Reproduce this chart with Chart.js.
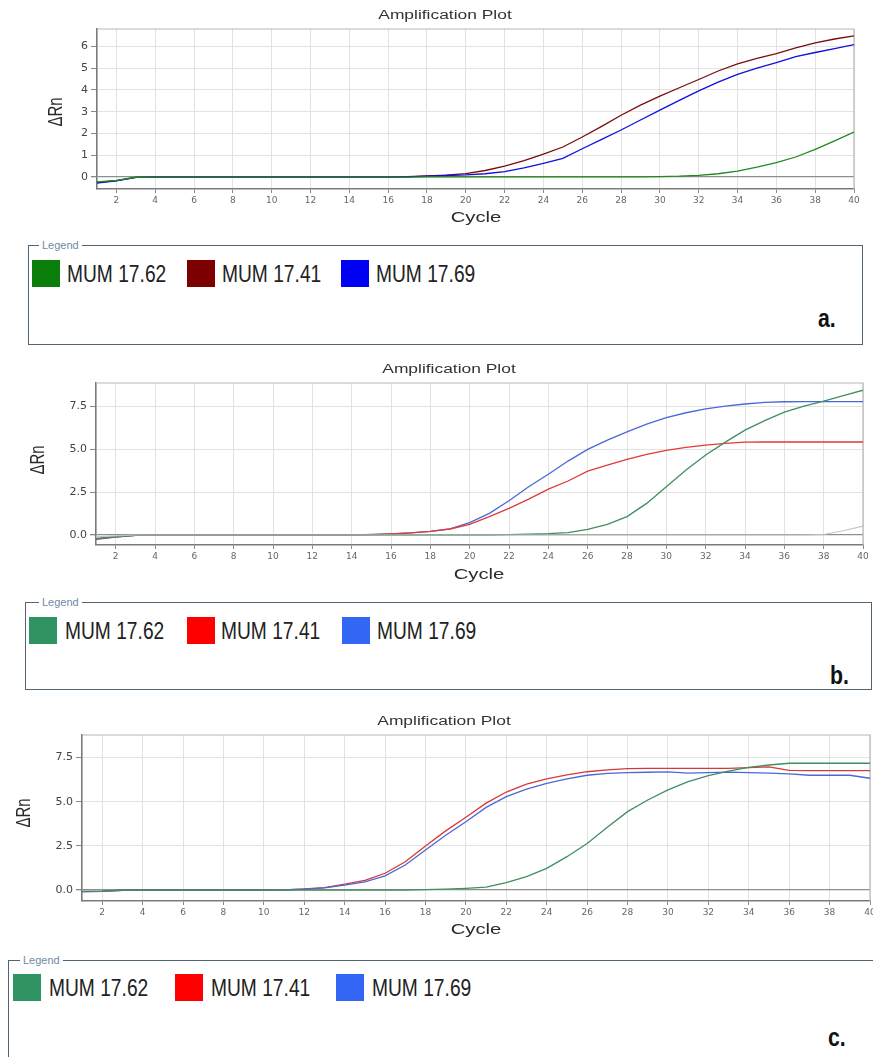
<!DOCTYPE html>
<html><head><meta charset="utf-8">
<script src="https://cdn.jsdelivr.net/npm/chart.js@4.4.1/dist/chart.umd.min.js"></script>
<style>
html,body{margin:0;padding:0;background:#fff;}
body{width:873px;height:1057px;position:relative;overflow:hidden;font-family:"Liberation Sans",Arial,sans-serif;}
.cw{position:absolute;left:0;width:873px;}
.lg{position:absolute;border:1.5px solid #4f6474;box-sizing:border-box;}
.lgt{position:absolute;background:#fff;padding:0 3px;font-size:11px;color:#7088a8;line-height:14px;}
.sw{position:absolute;width:28px;height:27px;}
.tx{position:absolute;font-size:24px;line-height:28px;color:#222;transform:scaleX(0.8);transform-origin:0 50%;white-space:nowrap;}
.tag{position:absolute;font-size:25px;line-height:28px;font-weight:bold;color:#111;transform:scaleX(0.85);transform-origin:0 50%;}
</style></head>
<body>
<div class="cw" style="top:0;height:232px"><canvas id="ca"></canvas></div>
<div class="cw" style="top:355px;height:240px"><canvas id="cb"></canvas></div>
<div class="cw" style="top:710px;height:240px"><canvas id="cc"></canvas></div>
<div id="legends"></div>
<script>
// ---------- data ----------
const cycles = [1,2,3,4,5,6,7,8,9,10,11,12,13,14,15,16,17,18,19,20,21,22,23,24,25,26,27,28,29,30,31,32,33,34,35,36,37,38,39,40];
const xTickValues = [2,4,6,8,10,12,14,16,18,20,22,24,26,28,30,32,34,36,38,40];
const xTickLabels = ['2','4','6','8','10','12','14','16','18','20','22','24','26','28','30','32','34','36','38','40'];
const yTickValuesA = [0,1,2,3,4,5,6];
const yTickLabelsA = ['0','1','2','3','4','5','6'];
const yTickValuesBC = [0,2.5,5,7.5];
const yTickLabelsBC = ['0.0','2.5','5.0','7.5'];
const seriesNames = ['MUM 17.62','MUM 17.41','MUM 17.69'];
const panelTags = ['a.','b.','c.'];
const titleText = 'Amplification Plot';
const xTitleText = 'Cycle';
const yTitleText = 'ΔRn';
const legendTitle = 'Legend';

// panel a
const aGreen = [-0.22,-0.15,-0.01,0,0,0,0,0,0,0,0,0,0,0,0,0,0,0.01,0.01,0.01,0.01,0.01,0.01,0.01,0.01,0.01,0.01,0.01,0.01,0.02,0.04,0.08,0.15,0.27,0.45,0.66,0.92,1.27,1.66,2.07];
const aRed   = [-0.25,-0.17,-0.02,0,0,0,0,0,0,0,0,0,0,0,0,0,0.02,0.05,0.09,0.16,0.3,0.5,0.75,1.05,1.38,1.84,2.33,2.84,3.3,3.72,4.1,4.48,4.87,5.2,5.45,5.67,5.93,6.16,6.34,6.48];
const aBlue  = [-0.28,-0.18,-0.02,0,0,0,0,0,0,0,0,0,0,0,0,0,0.01,0.04,0.07,0.1,0.15,0.25,0.42,0.63,0.86,1.3,1.73,2.16,2.62,3.07,3.52,3.96,4.36,4.72,5.0,5.26,5.53,5.72,5.9,6.08];
// panel b
const bGreen = [-0.2,-0.1,-0.02,0,0,0,0,0,0,0,0,0,0,0,0,0,0,0,0,0,0,0.02,0.05,0.08,0.14,0.33,0.62,1.07,1.84,2.81,3.78,4.65,5.4,6.1,6.65,7.15,7.5,7.78,8.1,8.42];
const bRed   = [-0.22,-0.1,-0.02,0,0,0,0,0,0,0,0,0,0,0,0.02,0.06,0.12,0.21,0.35,0.62,1.07,1.55,2.09,2.67,3.14,3.72,4.07,4.4,4.69,4.92,5.1,5.23,5.33,5.4,5.41,5.41,5.41,5.41,5.41,5.41];
const bBlue  = [-0.25,-0.12,-0.02,0,0,0,0,0,0,0,0,0,0,0,0.03,0.07,0.13,0.21,0.36,0.72,1.26,1.99,2.81,3.53,4.3,4.98,5.52,6.0,6.45,6.82,7.11,7.33,7.5,7.62,7.71,7.75,7.76,7.76,7.76,7.76];
const bGrey  = [-0.1,-0.05,0,0,0,0,0,0,0,0,0,0,0,0,0,0,0,0,0,0,0,0,0,0,0,0,0,0,0,0,0,0,0,0,0,0,0,0.03,0.25,0.52];
// panel c
const cGreen = [-0.08,-0.06,-0.01,0,0,0,0,0,0,0,0,0,0,0,0,0,0,0.02,0.05,0.1,0.17,0.42,0.76,1.23,1.89,2.64,3.55,4.44,5.1,5.67,6.14,6.48,6.74,6.95,7.08,7.18,7.18,7.18,7.18,7.18];
const cRed   = [-0.08,-0.06,-0.01,0,0,0,0,0,0,0,0.01,0.07,0.14,0.33,0.55,0.95,1.6,2.5,3.35,4.12,4.92,5.55,6.0,6.29,6.52,6.7,6.8,6.88,6.89,6.89,6.89,6.89,6.89,6.93,6.97,6.78,6.76,6.76,6.76,6.76];
const cBlue  = [-0.1,-0.07,-0.01,0,0,0,0,0,0,0,0.01,0.05,0.12,0.28,0.46,0.8,1.42,2.27,3.1,3.87,4.68,5.29,5.72,6.04,6.29,6.5,6.61,6.65,6.67,6.69,6.62,6.65,6.68,6.65,6.62,6.58,6.5,6.5,6.5,6.33];

// ---------- helpers ----------
function pts(arr){ return cycles.map((c,i)=>({x:c,y:arr[i]})); }

const textPlugin = {
  id:'txt',
  afterDraw(chart, args, o){
    const c = chart.ctx;
    c.save();
    c.textAlign='center'; c.textBaseline='middle';
    c.save(); c.translate(o.title[0], o.title[1]); c.scale(1.45,1);
    c.font='12px "Liberation Sans", Arial, sans-serif'; c.fillStyle='#333';
    c.fillText(titleText,0,0); c.restore();
    c.save(); c.translate(o.xt[0], o.xt[1]); c.scale(1.35,1);
    c.font='15px "Liberation Sans", Arial, sans-serif'; c.fillStyle='#2a2a2a';
    c.fillText(xTitleText,0,0); c.restore();
    c.save(); c.translate(o.yt[0], o.yt[1]); c.rotate(-Math.PI/2); c.scale(1,1.3);
    c.font='15px "Liberation Sans", Arial, sans-serif'; c.fillStyle='#2a2a2a';
    c.fillText(yTitleText,0,0); c.restore();
    c.restore();
  }
};
const framePlugin = {
  id:'frame',
  beforeDatasetsDraw(chart){
    const a = chart.chartArea, c = chart.ctx;
    c.save(); c.strokeStyle='#b8b8b8'; c.lineWidth=1.2;
    c.beginPath(); c.moveTo(a.left,a.top); c.lineTo(a.right,a.top); c.lineTo(a.right,a.bottom); c.stroke();
    c.restore();
  }
};

function makeChart(id, sets, yMin, yMax, yVals, yLabs, area, H, txt){
  const datasets = sets.map(s=>({label:s.label, data:pts(s.data), borderColor:s.color, borderWidth:s.w||1.3,
    pointRadius:0, fill:false, tension:0}));
  return new Chart(document.getElementById(id), {
    type:'line',
    data:{datasets},
    options:{
      responsive:true, maintainAspectRatio:false, animation:false,
      layout:{padding:{top:area.top, right:873-area.right, left:0, bottom:0}},
      plugins:{legend:{display:false}, tooltip:{enabled:false}, txt:txt},
      scales:{
        x:{type:'linear', min:1, max:40,
          afterBuildTicks(ax){ ax.ticks = xTickValues.map(v=>({value:v})); },
          afterFit(ax){ ax.height = H-area.bottom; ax.paddingLeft=0; ax.paddingRight=0; },
          ticks:{autoSkip:false, maxRotation:0, padding:2, color:'#666', font:{family:'DejaVu Sans', size:9},
            callback:(v)=>xTickLabels[xTickValues.indexOf(v)]},
          grid:{color:'#e2e2e2', lineWidth:1, tickLength:4, tickColor:'#888'},
          border:{color:'#7a7a7a', width:1.6}
        },
        y:{type:'linear', min:yMin, max:yMax,
          afterBuildTicks(ax){ ax.ticks = yVals.map(v=>({value:v})); },
          afterFit(ax){ ax.width = area.left; },
          ticks:{autoSkip:false, padding:3, color:'#444', font:{family:'DejaVu Sans', size:11},
            callback:(v)=>yLabs[yVals.indexOf(v)]},
          grid:{color:(ctx)=> (ctx.tick && ctx.tick.value===0) ? '#8e8e8e' : '#e2e2e2',
            lineWidth:(ctx)=> (ctx.tick && ctx.tick.value===0) ? 1.3 : 1, tickLength:6, tickColor:'#888'},
          border:{color:'#7a7a7a', width:1.6}
        }
      }
    },
    plugins:[framePlugin, textPlugin]
  });
}

makeChart('ca', [
  {label:seriesNames[0], data:aGreen, color:'#1f8a1f'},
  {label:seriesNames[2], data:aBlue, color:'#1010d8'},
  {label:seriesNames[1], data:aRed, color:'#7a0c0c'}
], -0.55, 6.8, yTickValuesA, yTickLabelsA, {left:97,right:854,top:29,bottom:189}, 232,
  {title:[445,16], xt:[476,218], yt:[57,112]});

makeChart('cb', [
  {label:'NTC', data:bGrey, color:'#c4c4c4', w:1.1},
  {label:seriesNames[0], data:bGreen, color:'#3f8f60'},
  {label:seriesNames[1], data:bRed, color:'#e03a3a'},
  {label:seriesNames[2], data:bBlue, color:'#4a68d8'}
], -0.58, 8.84, yTickValuesBC, yTickLabelsBC, {left:96,right:863,top:28,bottom:190}, 240,
  {title:[449,15], xt:[479,220], yt:[39,105]});

makeChart('cc', [
  {label:seriesNames[0], data:cGreen, color:'#3f8f60'},
  {label:seriesNames[2], data:cBlue, color:'#4a68d8'},
  {label:seriesNames[1], data:cRed, color:'#d93838'}
], -0.62, 8.78, yTickValuesBC, yTickLabelsBC, {left:82,right:870,top:25,bottom:191}, 240,
  {title:[444,12], xt:[476,220], yt:[25,103]});

// ---------- legends (HTML) ----------
const legendColors = [
  ['#0b7d0b','#7d0000','#0000f2'],
  ['#2f9461','#ff0000','#3366f5'],
  ['#2f9461','#ff0000','#3366f5']
];
const legendBoxes = [
  {left:28, top:245, w:835, h:100, titleX:39, sw:[32,187,341], tx:[67,222,376], swTop:260, tag:[818,318]},
  {left:25, top:602, w:847, h:88,  titleX:39, sw:[29,187,342], tx:[65,221,377], swTop:617, tag:[830,675]},
  {left:8,  top:960, w:880, h:110, titleX:20, sw:[13,175,336], tx:[49,211,372], swTop:974, tag:[828,1037]}
];
const host = document.getElementById('legends');
legendBoxes.forEach((b,p)=>{
  let h = `<div class="lg" style="left:${b.left}px;top:${b.top}px;width:${b.w}px;height:${b.h}px"></div>`;
  h += `<span class="lgt" style="left:${b.titleX}px;top:${b.top-7}px">${legendTitle}</span>`;
  seriesNames.forEach((n,i)=>{
    h += `<div class="sw" style="left:${b.sw[i]}px;top:${b.swTop}px;background:${legendColors[p][i]}"></div>`;
    h += `<div class="tx" style="left:${b.tx[i]}px;top:${b.swTop}px">${n}</div>`;
  });
  h += `<div class="tag" style="left:${b.tag[0]}px;top:${b.tag[1]-14}px">${panelTags[p]}</div>`;
  host.insertAdjacentHTML('beforeend', h);
});
</script>
</body></html>
